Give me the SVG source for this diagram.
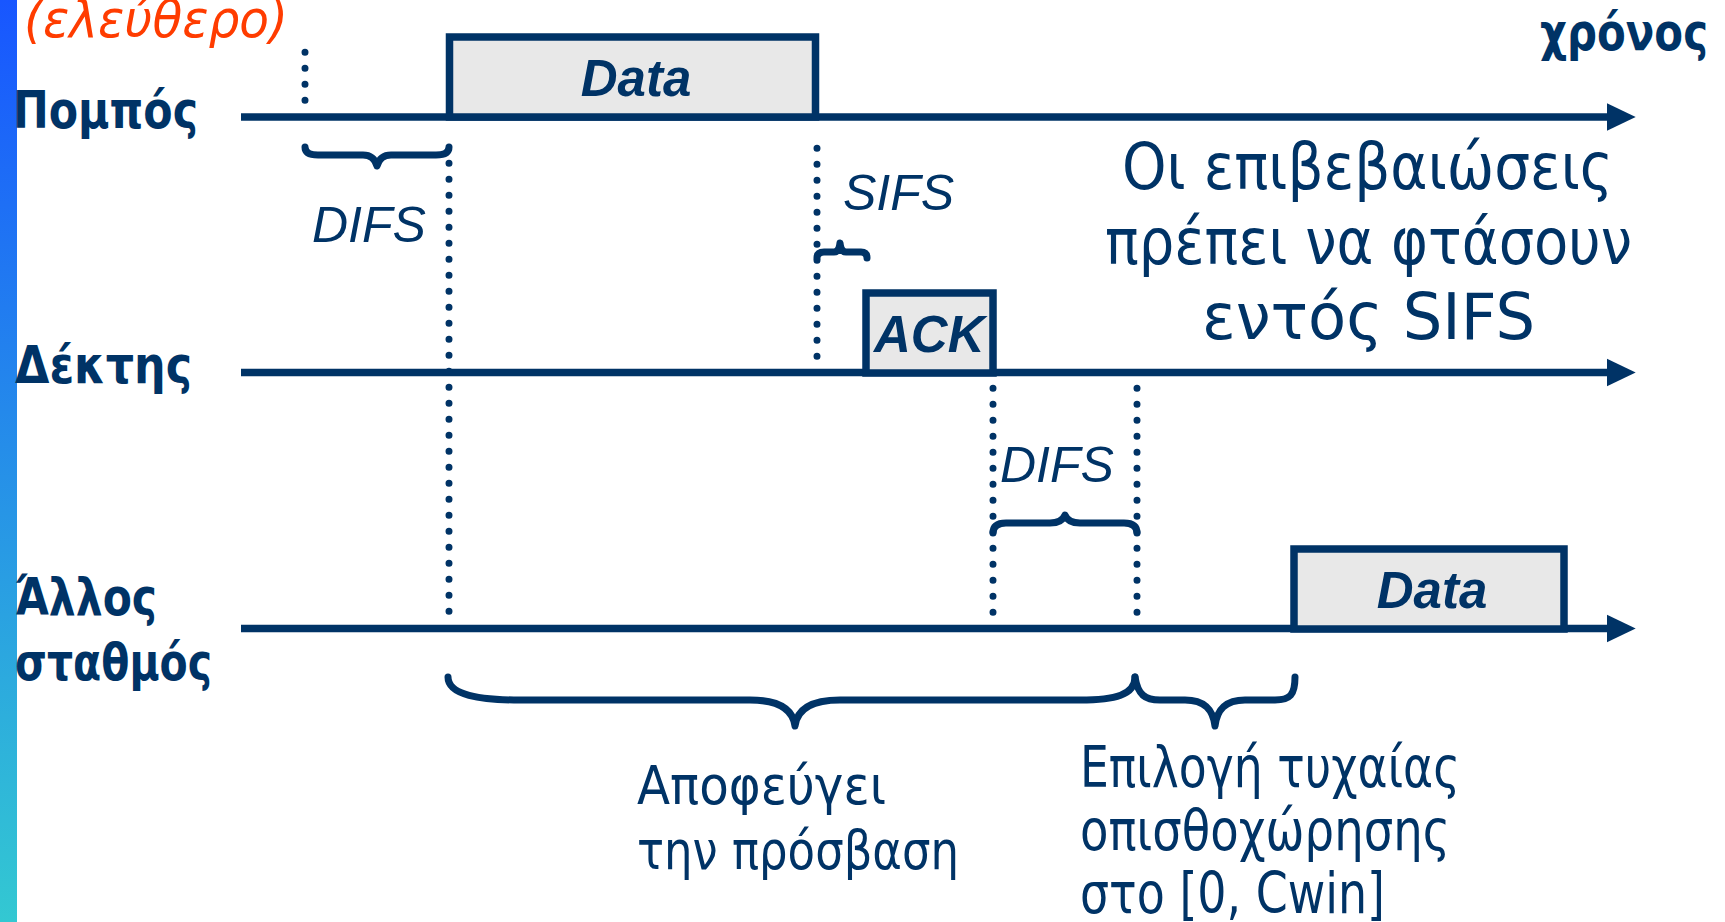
<svg xmlns="http://www.w3.org/2000/svg" width="1725" height="922" viewBox="0 0 1725 922">
  <defs>
    <linearGradient id="bar" x1="0" y1="0" x2="0" y2="1">
      <stop offset="0" stop-color="#1856ff"/>
      <stop offset="1" stop-color="#33c8d2"/>
    </linearGradient>
    <marker id="arrow" markerUnits="userSpaceOnUse" markerWidth="30" markerHeight="30" viewBox="0 0 26 26" refX="1" refY="13" orient="auto">
      <polygon points="0,1 25,13 0,25" fill="#003366"/>
    </marker>
    <style>
      .line { stroke: #003366; stroke-width: 7.5; fill: none; }
      .dots { stroke: #003366; stroke-width: 7; stroke-linecap: round; stroke-dasharray: 0 16; fill: none; }
      .brace { stroke: #003366; stroke-width: 7; fill: none; stroke-linecap: round; stroke-linejoin: round; }
      .boxfill { fill: #e8e8e8; stroke: none; }
      .boxedge { fill: none; stroke: #003366; stroke-width: 7.5; }
      .lbl { font-family: "DejaVu Sans", "Noto Sans", sans-serif; font-weight: bold; font-size: 51px; fill: #003366; }
      .note { font-family: "DejaVu Sans", "Noto Sans", sans-serif; fill: #003366; }
      .ital { font-family: "Liberation Sans", Arial, sans-serif; font-style: italic; font-size: 50px; fill: #003366; }
      .pkt { font-family: "Liberation Sans", Arial, sans-serif; font-style: italic; font-weight: bold; font-size: 51px; fill: #003366; }
    </style>
  </defs>
  <rect x="0" y="0" width="17" height="922" fill="url(#bar)"/>

  <g id="connectors">
    <line class="line" x1="241" y1="117" x2="1608" y2="117" marker-end="url(#arrow)"/>
    <line class="line" x1="241" y1="372.5" x2="1608" y2="372.5" marker-end="url(#arrow)"/>
    <line class="line" x1="241" y1="628.5" x2="1608" y2="628.5" marker-end="url(#arrow)"/>
    <line class="dots" x1="305" y1="52.3" x2="305" y2="101"/>
    <line class="dots" x1="449" y1="163.3" x2="449" y2="612"/>
    <line class="dots" x1="817" y1="148.3" x2="817" y2="357"/>
    <line class="dots" x1="993" y1="388.3" x2="993" y2="613"/>
    <line class="dots" x1="1137" y1="388.3" x2="1137" y2="613"/>
    <path class="brace" d="M305,147 Q305,155 318,155 L363,155 Q374,155 377,166 Q380,155 391,155 L436,155 Q449,155 449,147"/>
    <path class="brace" d="M817,258 Q817,252 824,252 L834,252 Q839,252 840,243 Q841,252 846,252 L861,252 Q867,252 867,258"/>
    <path class="brace" d="M993,533 Q993,523 1006,523 L1050,523 Q1062,523 1065,515 Q1068,523 1080,523 L1124,523 Q1137,523 1137,533"/>
    <path class="brace" d="M448,677 C448,695 480,700 520,700 L750,700 C780,700 793,710 795,726 C797,710 810,700 840,700 L1080,700 C1115,700 1135,695 1135,677"/>
    <path class="brace" d="M1135,677 C1138,695 1145,700 1160,700 L1185,700 C1205,700 1213,710 1215,726 C1217,710 1225,700 1245,700 L1275,700 C1290,700 1295,695 1295,677"/>
  </g>

  <g id="label-free">
    <text x="24" y="37" font-family="DejaVu Sans, Noto Sans, sans-serif" font-style="italic" font-size="51" fill="#ff3c00" textLength="264" lengthAdjust="spacingAndGlyphs">(ελεύθερο)</text>
  </g>
  <g id="label-time">
    <text class="lbl" x="1540" y="50" textLength="168" lengthAdjust="spacingAndGlyphs">χρόνος</text>
  </g>
  <g id="sender">
    <text class="lbl" x="13" y="128" textLength="185" lengthAdjust="spacingAndGlyphs">Πομπός</text>
  </g>
  <g id="receiver">
    <text class="lbl" x="15" y="383" textLength="177" lengthAdjust="spacingAndGlyphs">Δέκτης</text>
  </g>
  <g id="other-station">
    <text class="lbl" x="15" y="615" textLength="142" lengthAdjust="spacingAndGlyphs">Άλλος</text>
    <text class="lbl" x="15" y="680" textLength="197" lengthAdjust="spacingAndGlyphs">σταθμός</text>
  </g>

  <g id="data-sender">
    <rect class="boxfill" x="449.5" y="37" width="366" height="80"/>
    <text class="pkt" x="636" y="96" text-anchor="middle">Data</text>
    <rect class="boxedge" x="449.5" y="37" width="366" height="80"/>
  </g>
  <g id="ack">
    <rect class="boxfill" x="866" y="293" width="127" height="80"/>
    <text class="pkt" x="874" y="352" font-size="53">ACK</text>
    <rect class="boxedge" x="866" y="293" width="127" height="80"/>
  </g>
  <g id="data-other">
    <rect class="boxfill" x="1294" y="549" width="270" height="80"/>
    <text class="pkt" x="1432" y="608" text-anchor="middle">Data</text>
    <rect class="boxedge" x="1294" y="549" width="270" height="80"/>
  </g>

  <g id="difs-1">
    <text class="ital" x="312" y="242">DIFS</text>
  </g>
  <g id="sifs">
    <text class="ital" x="843" y="210">SIFS</text>
  </g>
  <g id="difs-2">
    <text class="ital" x="1000" y="482">DIFS</text>
  </g>

  <g id="note-ack">
    <text class="note" font-size="64" x="1122" y="189" textLength="491" lengthAdjust="spacingAndGlyphs">Οι επιβεβαιώσεις</text>
    <text class="note" font-size="64" x="1105" y="264" textLength="527" lengthAdjust="spacingAndGlyphs">πρέπει να φτάσουν</text>
    <text class="note" font-size="64" x="1202" y="339" textLength="333" lengthAdjust="spacingAndGlyphs">εντός SIFS</text>
  </g>
  <g id="note-defer">
    <text class="note" font-size="54" x="637" y="804" textLength="249" lengthAdjust="spacingAndGlyphs">Αποφεύγει</text>
    <text class="note" font-size="54" x="637" y="869" textLength="322" lengthAdjust="spacingAndGlyphs">την πρόσβαση</text>
  </g>
  <g id="note-backoff">
    <text class="note" font-size="57" x="1080" y="787" textLength="380" lengthAdjust="spacingAndGlyphs">Επιλογή τυχαίας</text>
    <text class="note" font-size="57" x="1080" y="850" textLength="370" lengthAdjust="spacingAndGlyphs">οπισθοχώρησης</text>
    <text class="note" font-size="57" x="1080" y="913" textLength="305" lengthAdjust="spacingAndGlyphs">στο [0, Cwin]</text>
  </g>
</svg>
